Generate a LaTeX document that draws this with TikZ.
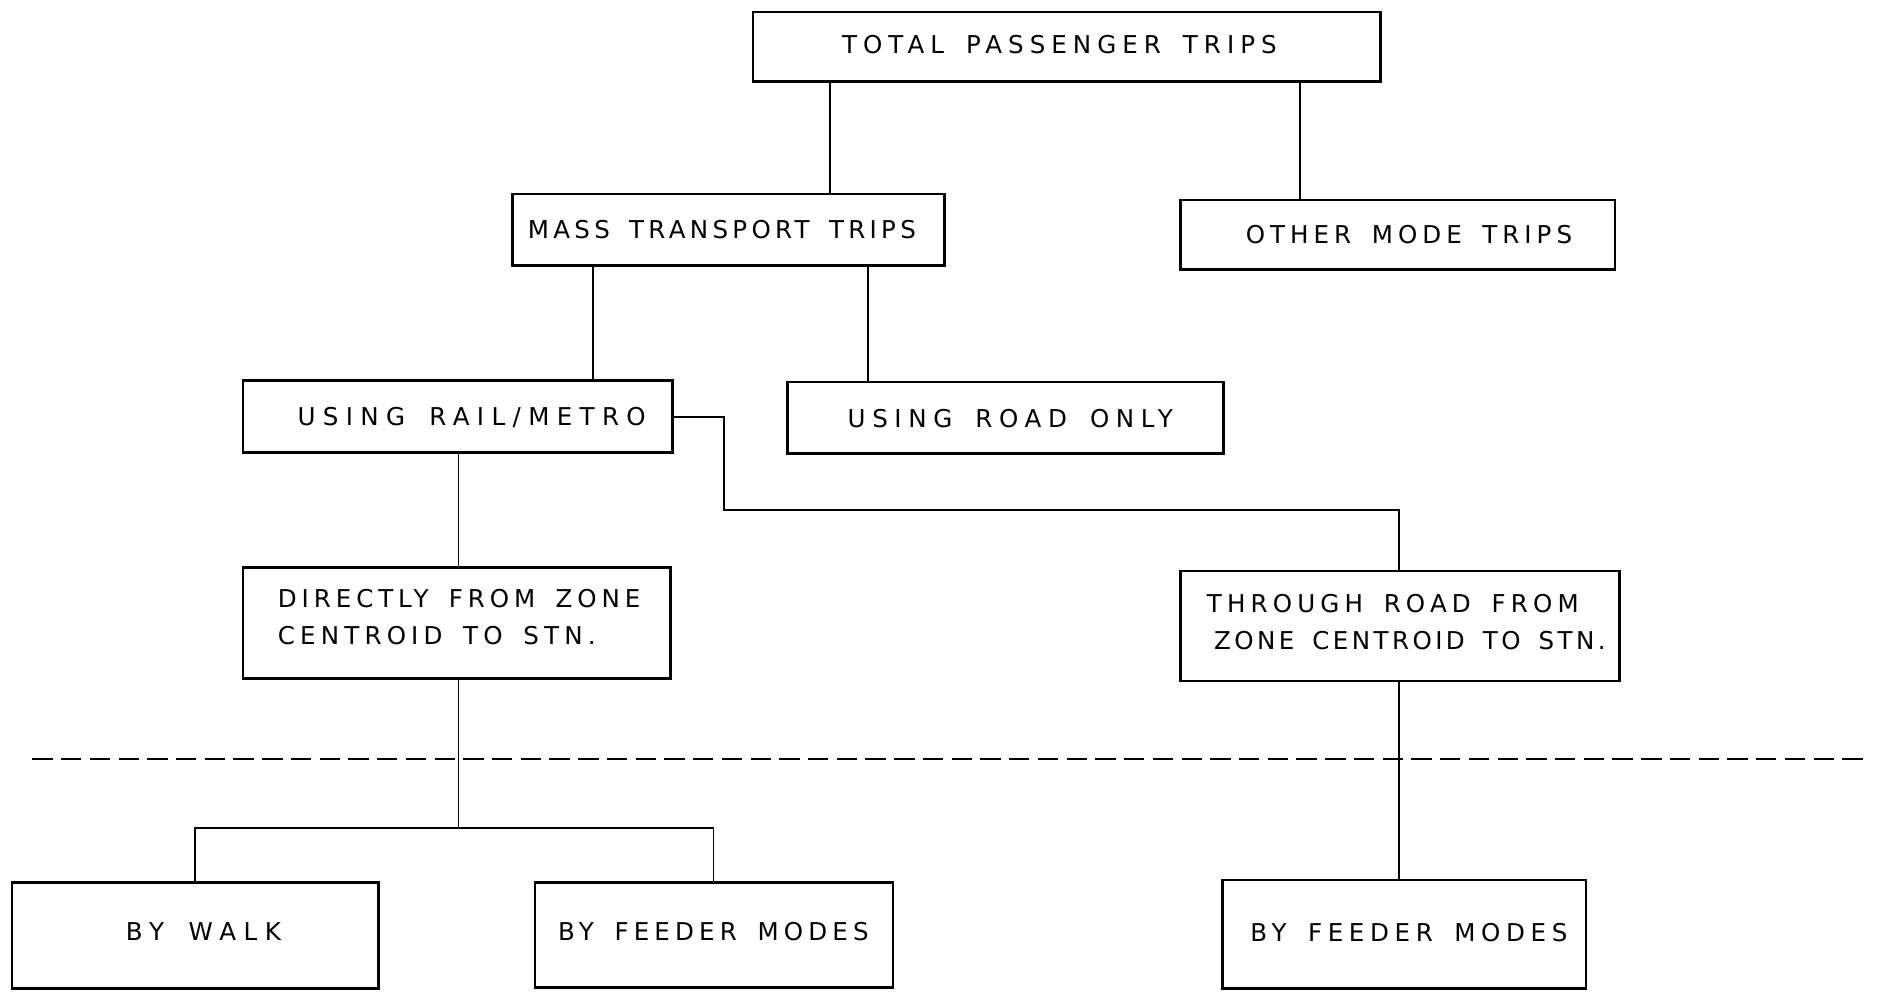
\documentclass[tikz,border=0pt]{standalone}
\usepackage{fontspec}
\setmainfont{DejaVu Sans}[LetterSpace=23,WordSpace=1.6]
\begin{document}
\begin{tikzpicture}[x=1pt,y=-1pt,
  box/.style={draw,line width=2.2pt,rectangle,inner sep=0pt},
  conn/.style={line width=1.6pt},
  txt/.style={font=\fontsize{20.5}{31}\selectfont\addfontfeature{LetterSpace=#1},inner sep=0pt},
  txt/.default=23,
  mtxt/.style={txt,align=left,anchor=west}]
\useasboundingbox (0,0) rectangle (1568,828);
% boxes
\node[box,minimum width=524pt,minimum height=58pt] (top) at (891,39) {};
\node[box,minimum width=361pt,minimum height=60pt] (mass) at (608.5,192) {};
\node[box,minimum width=363pt,minimum height=58pt] (other) at (1167.5,196) {};
\node[box,minimum width=359pt,minimum height=60pt] (rail) at (382.5,348) {};
\node[box,minimum width=364pt,minimum height=60pt] (road) at (840,349) {};
\node[box,minimum width=357pt,minimum height=93pt] (direct) at (381.5,520.5) {};
\node[box,minimum width=367pt,minimum height=92pt] (through) at (1169.5,523) {};
\node[box,minimum width=306pt,minimum height=89pt] (walk) at (163,781.5) {};
\node[box,minimum width=299pt,minimum height=88pt] (feedl) at (596.5,781) {};
\node[box,minimum width=304pt,minimum height=91pt] (feedr) at (1173,780.5) {};
% texts
\node[txt=24.5] (topt) at (885,37) {TOTAL PASSENGER TRIPS};
\node[txt=17.5] (masst) at (603,192) {MASS TRANSPORT TRIPS};
\node[txt=20.5] (othert) at (1177,196) {OTHER MODE TRIPS};
\node[txt=30] (railt) at (394,349) {USING RAIL/METRO};
\node[txt=27] (roadt) at (844,350) {USING ROAD ONLY};
\node[mtxt] (directt) at (232,515.5) {\addfontfeature{LetterSpace=20}DIRECTLY FROM ZONE\\\addfontfeature{LetterSpace=21}CENTROID TO STN.};
\node[mtxt] (throught) at (1008,519.5) {\addfontfeature{LetterSpace=21}THROUGH ROAD FROM\\\hspace{6pt}\addfontfeature{LetterSpace=14}ZONE CENTROID TO STN.};
\node[txt=31] (walkt) at (170,778) {BY WALK};
\node[txt=21] (feedlt) at (596,778) {BY FEEDER MODES};
\node[txt=23] (feedrt) at (1177,779) {BY FEEDER MODES};
% helper coordinates
\coordinate (xa) at (693,0);
\coordinate (xb) at (1086,0);
\coordinate (xc) at (495,0);
\coordinate (xd) at (725,0);
\coordinate (xe) at (383,0);
\coordinate (xf) at (605,0);
\coordinate (xg) at (1169,0);
\coordinate (xh) at (163,0);
\coordinate (xi) at (596,0);
\coordinate (ya) at (0,426);
\coordinate (yb) at (0,692);
\coordinate (dl) at (27,634);
\coordinate (dr) at (1562,634);
% connectors
\draw[conn] (xa |- top.south) -- (xa |- mass.north);
\draw[conn] (xb |- top.south) -- (xb |- other.north);
\draw[conn] (xc |- mass.south) -- (xc |- rail.north);
\draw[conn] (xd |- mass.south) -- (xd |- road.north);
\draw[conn] (rail.east) -- (xf |- rail.east) -- (xf |- ya) -- (xg |- ya) -- (xg |- through.north);
\draw[conn] (xe |- rail.south) -- (xe |- direct.north);
\draw[conn] (xe |- direct.south) -- (xe |- yb);
\draw[conn] (xh |- walk.north) -- (xh |- yb) -- (xi |- yb) -- (xi |- feedl.north);
\draw[conn] (xg |- through.south) -- (xg |- feedr.north);
% dashed separator
\draw[line width=2pt,dash pattern=on 17pt off 7pt] (dl) -- (dr);
\end{tikzpicture}
\end{document}
